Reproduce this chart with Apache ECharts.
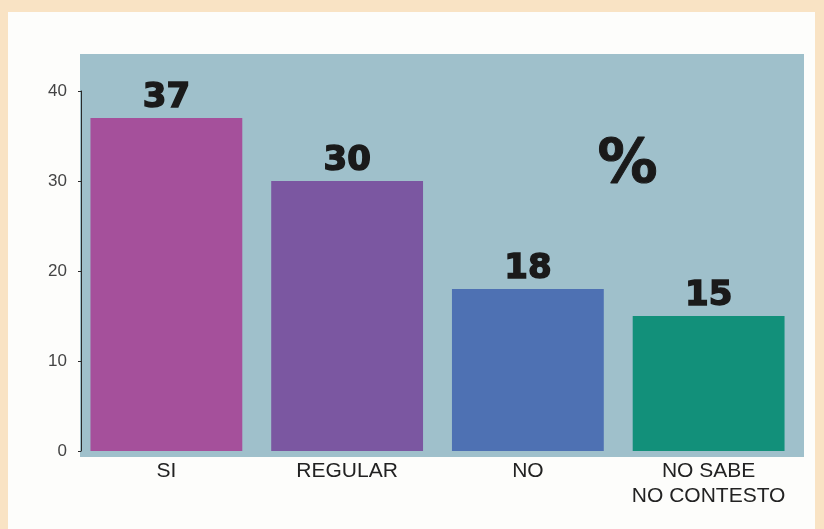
<!DOCTYPE html>
<html><head><meta charset="utf-8">
<script src="https://cdn.jsdelivr.net/npm/echarts@6/dist/echarts.min.js"></script>
<style>html,body{margin:0;padding:0;background:#f9e3c4;}#c{width:824px;height:529px;}</style>
</head><body><div id="c"></div>
<script>
var categories = ['SI', 'REGULAR', 'NO', 'NO SABE\nNO CONTESTO'];
var values = [37, 30, 18, 15];
var barColors = ['#a5509b', '#7b57a1', '#4e71b3', '#12907a'];
var yTicks = [0, 10, 20, 30, 40];

var chart = echarts.init(document.getElementById('c'));
chart.setOption({
  backgroundColor: 'transparent',
  animation: false,
  graphic: [
    {type: 'rect', z: -10, shape: {x: 8, y: 12, width: 807, height: 520}, style: {fill: '#fdfdfb'}},
    {type: 'rect', z: -5, shape: {x: 80, y: 54, width: 724, height: 403}, style: {fill: '#9fc0cb'}},
    {type: 'text', z: 10, left: 597, top: 136, style: {text: '%', font: 'bold 60px "DejaVu Sans"', fill: '#1a1a1a', stroke: '#1a1a1a', lineWidth: 1}}
  ],
  grid: {left: 76, right: 25, top: 91, bottom: 78, containLabel: false},
  xAxis: {
    type: 'category', data: categories,
    axisLine: {show: false}, axisTick: {show: false},
    axisLabel: {color: '#222', fontFamily: 'Liberation Sans', fontSize: 21, margin: 8, lineHeight: 25, interval: 0}
  },
  yAxis: {
    type: 'value', min: yTicks[0], max: yTicks[yTicks.length - 1], interval: 10, offset: -5,
    splitLine: {show: false},
    axisLine: {show: true, lineStyle: {color: '#2a2a2a', width: 1}},
    axisTick: {show: true, length: 3, lineStyle: {color: '#2a2a2a'}},
    axisLabel: {color: '#444', fontFamily: 'Liberation Sans', fontSize: 17, margin: 14}
  },
  series: [{
    type: 'bar',
    data: values.map(function (v, i) { return {value: v, itemStyle: {color: barColors[i]}}; }),
    barCategoryGap: '16%',
    label: {show: true, position: 'top', distance: 3, color: '#1a1a1a', fontFamily: 'DejaVu Sans', fontWeight: 'bold', fontSize: 34, textBorderColor: '#1a1a1a', textBorderWidth: 1.5}
  }]
});
</script></body></html>
